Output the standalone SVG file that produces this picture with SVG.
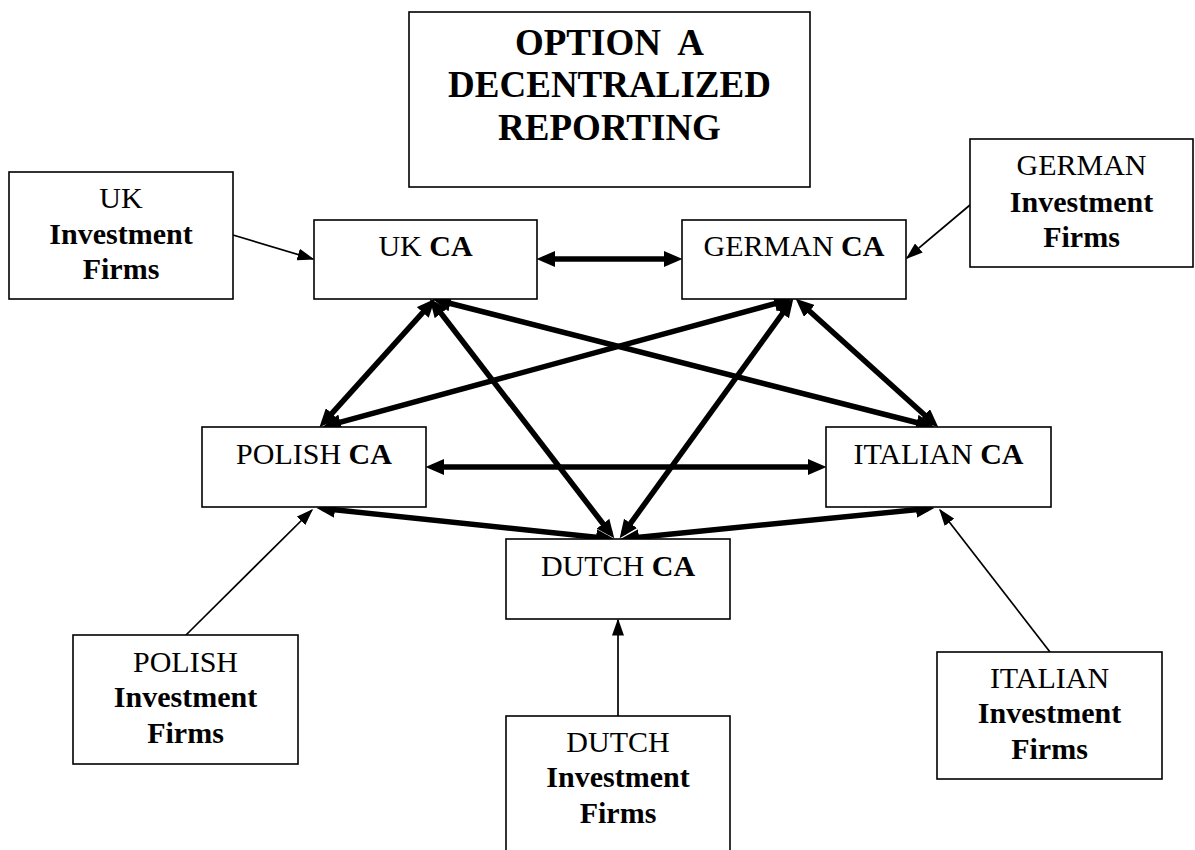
<svg xmlns="http://www.w3.org/2000/svg" width="1195" height="850" viewBox="0 0 1195 850">
<style>
rect.box{fill:#fff;stroke:#000;stroke-width:1.6}
text{font-family:"Liberation Serif","Times New Roman",serif;font-size:30px;fill:#000;text-anchor:middle}
.b{font-weight:bold}
.title{font-size:37px;font-weight:bold;white-space:pre}
.thick{stroke:#000;stroke-width:5.5;fill:none;marker-start:url(#hb);marker-end:url(#hb)}
.thin{stroke:#000;stroke-width:1.7;fill:none;marker-end:url(#ht)}
</style>
<defs>
<marker id="hb" markerUnits="userSpaceOnUse" markerWidth="19" markerHeight="16" refX="12" refY="8" orient="auto-start-reverse" viewBox="0 0 19 16"><path d="M0,0 L18.5,8 L0,16 z" fill="#000"/></marker>
<marker id="ht" markerUnits="userSpaceOnUse" markerWidth="17" markerHeight="12" refX="15.5" refY="6" orient="auto" viewBox="0 0 17 12"><path d="M0,0 L17,6 L0,12 z" fill="#000"/></marker>
</defs>
<rect width="1195" height="850" fill="#fff"/>
<g id="connectors">
<line class="thick" x1="543" y1="259" x2="676" y2="259"/>
<line class="thick" x1="430.8" y1="303.6" x2="323.8" y2="422.4"/>
<line class="thick" x1="433.7" y1="303.8" x2="610.3" y2="533.2"/>
<line class="thick" x1="438.8" y1="300.5" x2="928.2" y2="425.5"/>
<line class="thick" x1="786.2" y1="300.6" x2="328.8" y2="425.4"/>
<line class="thick" x1="789.5" y1="303.9" x2="623.5" y2="533.1"/>
<line class="thick" x1="800.5" y1="303.0" x2="933.5" y2="423.0"/>
<line class="thick" x1="432" y1="467" x2="820" y2="467"/>
<line class="thick" x1="323.0" y1="508.6" x2="608.0" y2="538.4"/>
<line class="thick" x1="627.0" y1="538.4" x2="928.0" y2="508.6"/>
<line class="thin" x1="233" y1="235" x2="313" y2="259"/>
<line class="thin" x1="970" y1="205" x2="907" y2="258"/>
<line class="thin" x1="186" y1="635" x2="312" y2="510"/>
<line class="thin" x1="618" y1="716" x2="618" y2="620"/>
<line class="thin" x1="1050" y1="652" x2="940" y2="510"/>
</g>
<g id="title">
<rect class="box" x="409" y="12" width="401" height="175"/>
<text class="title" x="609.5" y="55">OPTION  A</text>
<text class="title" x="609.5" y="97">DECENTRALIZED</text>
<text class="title" x="609.5" y="140">REPORTING</text>
</g>
<g id="uk-if">
<rect class="box" x="9" y="172" width="224" height="127"/>
<text x="121" y="208">UK</text>
<text class="b" x="121" y="244">Investment</text>
<text class="b" x="121" y="279">Firms</text>
</g>
<g id="uk-ca">
<rect class="box" x="314" y="220" width="223" height="79"/>
<text x="425.5" y="256">UK <tspan class="b">CA</tspan></text>
</g>
<g id="german-ca">
<rect class="box" x="682" y="220" width="224" height="79"/>
<text x="794" y="256">GERMAN <tspan class="b">CA</tspan></text>
</g>
<g id="german-if">
<rect class="box" x="970" y="139" width="223" height="128"/>
<text x="1081.5" y="175">GERMAN</text>
<text class="b" x="1081.5" y="212">Investment</text>
<text class="b" x="1081.5" y="247">Firms</text>
</g>
<g id="polish-ca">
<rect class="box" x="202" y="427" width="224" height="80"/>
<text x="314" y="464">POLISH <tspan class="b">CA</tspan></text>
</g>
<g id="italian-ca">
<rect class="box" x="826" y="427" width="225" height="80"/>
<text x="938.5" y="464">ITALIAN <tspan class="b">CA</tspan></text>
</g>
<g id="dutch-ca">
<rect class="box" x="506" y="539" width="224" height="80"/>
<text x="618" y="576">DUTCH <tspan class="b">CA</tspan></text>
</g>
<g id="polish-if">
<rect class="box" x="73" y="635" width="225" height="129"/>
<text x="185.5" y="672">POLISH</text>
<text class="b" x="185.5" y="707">Investment</text>
<text class="b" x="185.5" y="743">Firms</text>
</g>
<g id="dutch-if">
<rect class="box" x="506" y="716" width="224" height="140"/>
<text x="618" y="752">DUTCH</text>
<text class="b" x="618" y="787">Investment</text>
<text class="b" x="618" y="823">Firms</text>
</g>
<g id="italian-if">
<rect class="box" x="937" y="652" width="225" height="127"/>
<text x="1049.5" y="688">ITALIAN</text>
<text class="b" x="1049.5" y="723">Investment</text>
<text class="b" x="1049.5" y="759">Firms</text>
</g>
</svg>
